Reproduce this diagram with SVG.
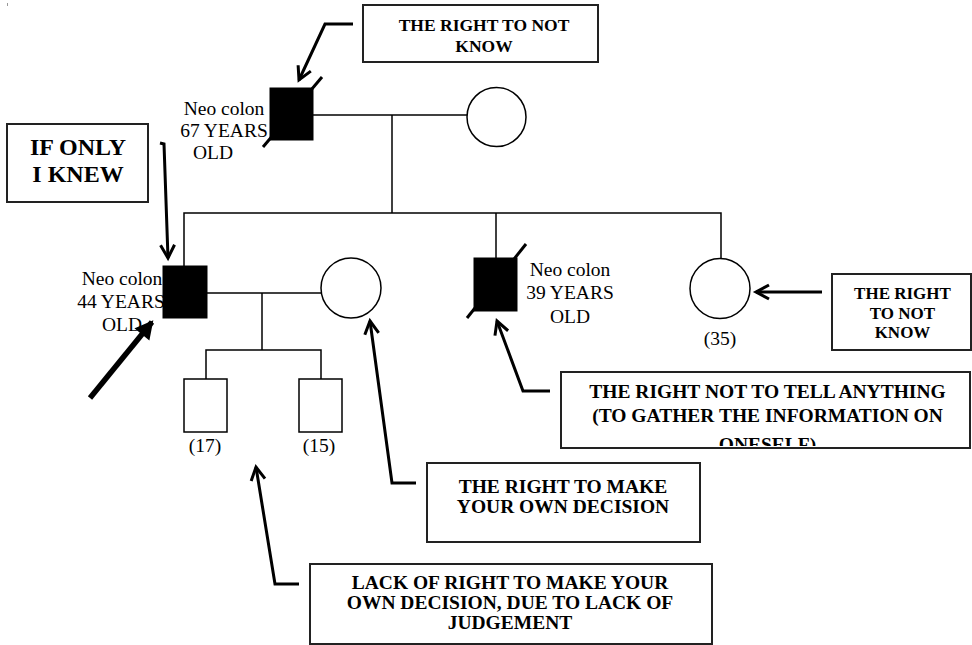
<svg xmlns="http://www.w3.org/2000/svg" width="972" height="645" viewBox="0 0 972 645">
<style>
.t{fill:none;stroke:#000;stroke-width:1.5}
.aff{fill:#000;stroke:#000;stroke-width:1}
.unaff{fill:#fff;stroke:#000;stroke-width:1.5}
.slash{stroke:#000;stroke-width:3;fill:none}
.box{fill:#fff;stroke:#222;stroke-width:2}
.arr{fill:none;stroke:#000;stroke-width:3;marker-end:url(#ah)}
.lbl{font-family:"Liberation Serif","Times New Roman",serif;font-size:19.5px;fill:#000;text-anchor:middle}
.bt{font-family:"Liberation Serif","Times New Roman",serif;font-weight:bold;font-size:19.5px;fill:#000;text-anchor:middle}
</style>
<defs>
<marker id="ah" markerUnits="userSpaceOnUse" markerWidth="20" markerHeight="20" viewBox="-16 -10 20 20" refX="0" refY="0" orient="auto">
<path d="M-13,-7 L0,0 L-13,7" fill="none" stroke="#000" stroke-width="3"/>
</marker>
<marker id="ahb" markerUnits="userSpaceOnUse" markerWidth="24" markerHeight="24" viewBox="-18 -12 24 24" refX="0" refY="0" orient="auto">
<path d="M-15,-8 L0,0 L-15,8 Z" fill="#000" stroke="#000" stroke-width="2"/>
</marker>
<clipPath id="clipBig"><rect x="561" y="372" width="409" height="74"/></clipPath>
</defs>
<rect x="7" y="3" width="1" height="3" fill="#999"/>
<g id="connectors">
<polyline class="t" points="313,115 467,115"/>
<polyline class="t" points="392,115 392,213"/>
<polyline class="t" points="184,266 184,213 721,213 721,259"/>
<polyline class="t" points="496,213 496,258"/>
<polyline class="t" points="207,293 321,293"/>
<polyline class="t" points="262,293 262,350"/>
<polyline class="t" points="206,379 206,350 321,350 321,379"/>
<path class="arr" d="M353,24 L325,24 L299,80"/>
<path class="arr" d="M160,143 L164,144 L168,258"/>
<path class="arr" d="M550,391 L523,391 L497,321"/>
<path class="arr" d="M822,292 L756,292"/>
<path class="arr" d="M416,483 L392,483 L370,321"/>
<path class="arr" d="M299,584 L275,584 L256,467"/>
<path d="M90,398 L152,322" fill="none" stroke="#000" stroke-width="5.5" marker-end="url(#ahb)"/>
</g>
<g id="father">
<line class="slash" x1="322" y1="77" x2="263" y2="147"/>
<rect class="aff" x="270" y="88" width="43" height="52"/>
<text class="lbl" x="224" y="115">Neo colon</text>
<text class="lbl" x="224" y="137">67 YEARS</text>
<text class="lbl" x="213" y="159">OLD</text>
</g>
<g id="mother">
<circle class="unaff" cx="496.5" cy="117" r="29.5"/>
</g>
<g id="proband">
<rect class="aff" x="163" y="266" width="44" height="52"/>
<text class="lbl" x="122" y="285">Neo colon</text>
<text class="lbl" x="121" y="308">44 YEARS</text>
<text class="lbl" x="122" y="331">OLD</text>
</g>
<g id="wife">
<circle class="unaff" cx="351" cy="288" r="30"/>
</g>
<g id="brother39">
<line class="slash" x1="526" y1="244" x2="467" y2="318"/>
<rect class="aff" x="474" y="258" width="43" height="53"/>
<text class="lbl" x="570" y="276">Neo colon</text>
<text class="lbl" x="570" y="299">39 YEARS</text>
<text class="lbl" x="570" y="323">OLD</text>
</g>
<g id="sister35">
<circle class="unaff" cx="720" cy="288.5" r="30"/>
<text class="lbl" x="720" y="345">(35)</text>
</g>
<g id="son17">
<rect class="unaff" x="184" y="379" width="43" height="53"/>
<text class="lbl" x="205" y="452">(17)</text>
</g>
<g id="son15">
<rect class="unaff" x="299" y="379" width="43" height="53"/>
<text class="lbl" x="319" y="452">(15)</text>
</g>
<g id="box-top">
<rect class="box" x="363" y="5" width="235" height="57"/>
<text class="bt" style="font-size:17.5px" x="484" y="31">THE RIGHT TO NOT</text>
<text class="bt" style="font-size:17.5px" x="484" y="52">KNOW</text>
</g>
<g id="box-ifonly">
<rect class="box" x="7" y="124" width="141" height="78"/>
<text class="bt" style="font-size:24px" x="78" y="155">IF ONLY</text>
<text class="bt" style="font-size:24px" x="78" y="182">I KNEW</text>
</g>
<g id="box-right">
<rect class="box" x="832" y="274" width="139" height="76"/>
<text class="bt" style="font-size:17px" x="902.5" y="299">THE RIGHT</text>
<text class="bt" style="font-size:17px" x="902.5" y="319">TO NOT</text>
<text class="bt" style="font-size:17px" x="902.5" y="338">KNOW</text>
</g>
<g id="box-tell">
<rect class="box" x="561" y="372" width="409" height="76"/>
<g clip-path="url(#clipBig)">
<text class="bt" x="767.5" y="398">THE RIGHT NOT TO TELL ANYTHING</text>
<text class="bt" x="767.5" y="422">(TO GATHER THE INFORMATION ON</text>
<text class="bt" x="767.5" y="451">ONESELF)</text>
</g>
</g>
<g id="box-decision">
<rect class="box" x="427" y="463" width="273" height="79"/>
<text class="bt" x="563" y="493">THE RIGHT TO MAKE</text>
<text class="bt" x="563" y="513">YOUR OWN DECISION</text>
</g>
<g id="box-lack">
<rect class="box" x="310" y="564" width="402" height="80"/>
<text class="bt" x="510" y="589">LACK OF RIGHT TO MAKE YOUR</text>
<text class="bt" x="510" y="609">OWN DECISION, DUE TO LACK OF</text>
<text class="bt" x="510" y="629">JUDGEMENT</text>
</g>
</svg>
